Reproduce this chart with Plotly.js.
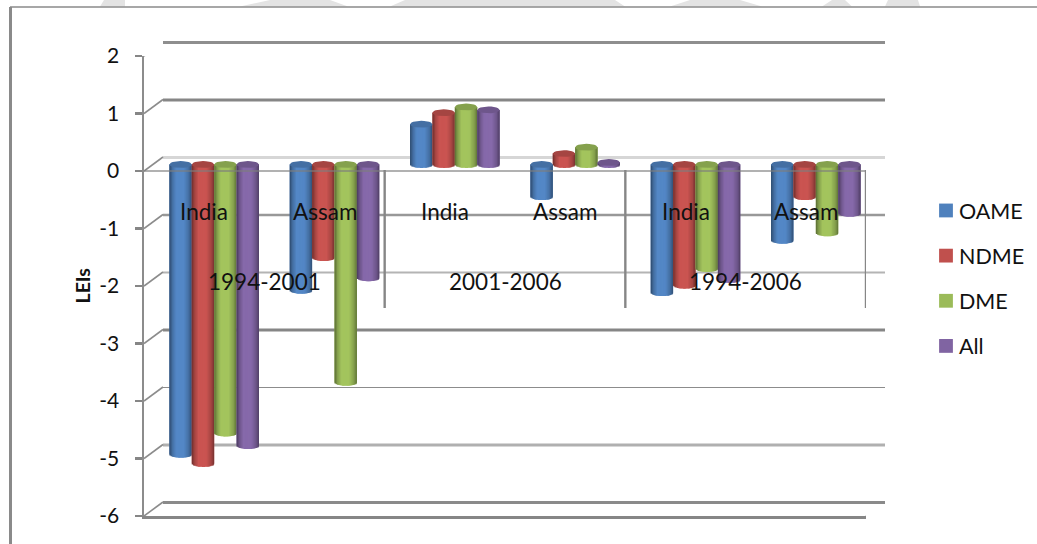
<!DOCTYPE html>
<html>
<head>
<meta charset="utf-8">
<script src="https://cdn.plot.ly/plotly-3.0.1.min.js"></script>
<style>html,body{margin:0;padding:0;background:#fff;overflow:hidden}#chart{width:1037px;height:544px}</style>
</head>
<body>
<div id="chart"></div>
<script>
// Learning Effect Indices by education group, three periods, India and Assam
const places = ['India', 'Assam', 'India', 'Assam', 'India', 'Assam'];
const periods = ['1994-2001', '2001-2006', '1994-2006'];
const OAME = [-5.04, -2.19, 0.70, -0.56, -2.23, -1.32];
const NDME = [-5.20, -1.62, 0.90, 0.19, -2.10, -0.56];
const DME = [-4.67, -3.79, 1.00, 0.30, -1.81, -1.19];
const ALL = [-4.89, -1.97, 0.95, 0.035, -2.00, -0.85];
const seriesNames = ['OAME', 'NDME', 'DME', 'All'];
const seriesValues = [OAME, NDME, DME, ALL];
const seriesColors = [[79, 129, 189], [192, 80, 77], [155, 187, 89], [128, 100, 162]];
const tickValues = [2, 1, 0, -1, -2, -3, -4, -5, -6];
const tickLabels = ['2', '1', '0', '-1', '-2', '-3', '-4', '-5', '-6'];
// rear wall rule weights and greys, one per tick value
const wallWidths = [3, 3, 3, 2.5, 2, 3, 1.2, 3, 3];
const wallColors = ['#8e8e8e', '#868686', '#d6d6d6', '#989898', '#b4b4b4', '#868686', '#8c8c8c', '#b0b0b0', '#8a8a8a'];

const W = 1037, H = 544;
const fx = px => px / W;
const fy = py => 1 - py / H;
const UNIT_X = 722 / 6, UNIT_Y = 57.5;

// Cylinder geometry in axis units
const BAR_W = 22.4 / UNIT_X;
const CAP_H = 3.4 / UNIT_Y;
const STRIPS = 18;
const shadeStops = [[0, .58], [.14, .86], [.3, 1.05], [.65, 1.05], [.86, .86], [1, .62]];

function shadeAt(t) {
  for (let i = 1; i < shadeStops.length; i++) {
    if (t <= shadeStops[i][0]) {
      const [a, sa] = shadeStops[i - 1], [b, sb] = shadeStops[i];
      return sa + (sb - sa) * (t - a) / (b - a);
    }
  }
  return 1;
}
const rgb = (c, k) => 'rgb(' + c.map(v => Math.min(255, Math.round(v * k))).join(',') + ')';

const groupCentres = places.map((_, i) => i + 0.5);
const traces = [];

// Rear wall rules
tickValues.forEach((v, i) => {
  traces.push({
    x: [0, 6], y: [v, v], xaxis: 'x', yaxis: 'y', type: 'scatter', mode: 'lines',
    line: {color: wallColors[i], width: wallWidths[i]}, showlegend: false, hoverinfo: 'skip'
  });
});

// Cylinders: a solid bar for each series plus shaded strips with rounded ends
seriesValues.forEach((vals, s) => {
  const start = -2 * BAR_W + s * BAR_W;
  traces.push({
    type: 'bar', name: seriesNames[s], legendgroup: seriesNames[s], x: groupCentres, y: vals,
    xaxis: 'x2', yaxis: 'y2', width: BAR_W, offset: start,
    marker: {color: rgb(seriesColors[s], 1), line: {width: 0}}
  });
  const stripW = BAR_W / STRIPS;
  for (let k = 0; k < STRIPS; k++) {
    const t = (k + 0.5) / STRIPS;
    const sag = CAP_H * Math.sqrt(1 - (2 * t - 1) ** 2);
    const bases = vals.map(v => v < 0 ? 0 : -sag);
    const lengths = vals.map((v, i) => v < 0 ? v - sag : v - bases[i]);
    traces.push({
      type: 'bar', x: groupCentres, y: lengths, base: bases, xaxis: 'x2', yaxis: 'y2',
      // strips overlap the next one so no white shows between them at the rounded end
      width: stripW * (k === STRIPS - 1 ? 1 : 1.7), offset: start + k * stripW,
      legendgroup: seriesNames[s], showlegend: false,
      marker: {color: rgb(seriesColors[s], shadeAt(t)), line: {width: 0}}, hoverinfo: 'skip'
    });
  }
});

// Elliptical tops of the cylinders
seriesValues.forEach((vals, s) => {
  const cx = [], cy = [];
  vals.forEach((v, i) => {
    const mid = groupCentres[i] + (-1.5 + s) * BAR_W;
    for (let a = 0; a <= 24; a++) {
      const th = a / 24 * 2 * Math.PI;
      cx.push(mid + BAR_W / 2 * Math.cos(th));
      cy.push(Math.max(v, 0) + CAP_H * Math.sin(th));
    }
    cx.push(null); cy.push(null);
  });
  traces.push({
    type: 'scatter', mode: 'lines', x: cx, y: cy, xaxis: 'x2', yaxis: 'y2', fill: 'toself',
    fillcolor: rgb(seriesColors[s], .86), line: {width: 0, color: rgb(seriesColors[s], .86)},
    showlegend: false, hoverinfo: 'skip', legendgroup: seriesNames[s]
  });
});

// Floor-to-wall connectors at each tick, on the front axes
const depthX = 19 / UNIT_X, depthY = 14 / UNIT_Y;
const diagX = [], diagY = [];
tickValues.forEach(v => { diagX.push(0, depthX, null); diagY.push(v, v + depthY, null); });
diagX.push(6, 6 + 21 / UNIT_X, null); diagY.push(-6, -6 + depthY, null);
traces.push({
  type: 'scatter', mode: 'lines', x: diagX, y: diagY, xaxis: 'x3', yaxis: 'y3', cliponaxis: false,
  line: {color: '#8c8c8c', width: 1.6}, showlegend: false, hoverinfo: 'skip'
});
// Category axis line at zero, showing through the cylinders
traces.push({
  type: 'scatter', mode: 'lines', x: [0, 6], y: [0, 0], xaxis: 'x3', yaxis: 'y3', cliponaxis: false,
  line: {color: 'rgba(125,125,125,0.6)', width: 2}, showlegend: false, hoverinfo: 'skip'
});

const labelFont = {family: 'Lato, sans-serif', size: 22.5, color: '#111'};
const annotations = [];
places.forEach((p, i) => annotations.push({
  text: p, x: i + 0.5, xref: 'x3', y: fy(212), yref: 'paper', showarrow: false, font: labelFont
}));
periods.forEach((p, i) => annotations.push({
  text: p, x: 2 * i + 1, xref: 'x3', y: fy(281), yref: 'paper', showarrow: false, font: labelFont
}));

const shapes = [];
// Frame around the chart
shapes.push({type: 'line', xref: 'paper', yref: 'paper', x0: fx(10), x1: 1, y0: fy(7), y1: fy(7), line: {color: '#8a8a8a', width: 1.5}});
shapes.push({type: 'line', xref: 'paper', yref: 'paper', x0: fx(10.5), x1: fx(10.5), y0: fy(7), y1: 0, line: {color: '#8a8a8a', width: 3}});
// Period dividers below the category axis
[2, 4, 6].forEach(x => shapes.push({
  type: 'line', xref: 'x3', yref: 'paper', x0: x, x1: x, y0: fy(170), y1: fy(308), line: {color: '#868686', width: 2.4}
}));
// Pale band pieces running off the top edge of the sheet
[[100, 104, 125, 125], [240, 270, 330, 348], [390, 405, 615, 625], [670, 690, 740, 762], [822, 832, 845, 852], [885, 888, 918, 920]].forEach(b => {
  const p = (x, y) => fx(x) + ',' + fy(y);
  shapes.push({
    type: 'path', xref: 'paper', yref: 'paper', layer: 'below', line: {width: 0}, fillcolor: '#e3e3e3',
    path: 'M' + p(b[0], 6.5) + ' L' + p(b[1], 0) + ' L' + p(b[2], 0) + ' L' + p(b[3], 6.5) + ' Z'
  });
});

const hidden = {visible: false, fixedrange: true};
const layout = {
  width: W, height: H, margin: {l: 0, r: 0, t: 0, b: 0},
  paper_bgcolor: '#fff', plot_bgcolor: 'rgba(0,0,0,0)',
  barmode: 'overlay', font: {family: 'Lato, sans-serif', color: '#111'},
  xaxis: {...hidden, domain: [fx(163), fx(885)], range: [0, 6], anchor: 'y'},
  // half a unit of slack either side so the outer rear rules keep their full weight
  yaxis: {...hidden, domain: [fy(531.25), fy(13.75)], range: [-6.5, 2.5], anchor: 'x'},
  xaxis2: {...hidden, domain: [fx(154), fx(876)], range: [0, 6], anchor: 'y2'},
  yaxis2: {...hidden, domain: [fy(509.5), fy(49.5)], range: [-6, 2], anchor: 'x2'},
  xaxis3: {
    domain: [fx(144), fx(866)], range: [0, 6], anchor: 'y3', fixedrange: true, showgrid: false, zeroline: false,
    showticklabels: false, ticks: '', showline: true, linecolor: '#868686', linewidth: 3
  },
  yaxis3: {
    domain: [fy(516), fy(56)], range: [-6, 2], anchor: 'x3', fixedrange: true, showgrid: false, zeroline: false,
    tickmode: 'array', tickvals: tickValues, ticktext: tickLabels, ticks: 'outside', ticklen: 7, tickwidth: 2.5,
    tickcolor: '#868686', showline: true, linecolor: '#8c8c8c', linewidth: 1.6, ticklabelstandoff: 12,
    tickfont: {family: 'Lato, sans-serif', size: 21, color: '#111'}
  },
  legend: {
    x: fx(926), xanchor: 'left', y: fy(190), yanchor: 'top', traceorder: 'grouped', tracegroupgap: 14.2,
    font: {family: 'Lato, sans-serif', size: 21.5, color: '#111'}, bgcolor: 'rgba(0,0,0,0)', borderwidth: 0
  },
  annotations: annotations.concat([{
    text: '<b>LEIs</b>', x: fx(68), y: fy(286), xref: 'paper', yref: 'paper', showarrow: false, textangle: -90,
    font: {family: 'Lato, sans-serif', size: 19.5, color: '#111'}
  }]),
  shapes: shapes
};

Plotly.newPlot('chart', traces, layout, {displayModeBar: false, staticPlot: true}).then(gd => {
  // tighter key: larger swatches with the names closer to them
  gd.querySelectorAll('.legend .legendtext').forEach(t => t.setAttribute('x', 33));
  gd.querySelectorAll('.legend .legendpoints path').forEach(p => {
    p.setAttribute('transform', (p.getAttribute('transform') || '') + ' scale(1.15)');
  });
});
</script>
</body>
</html>
